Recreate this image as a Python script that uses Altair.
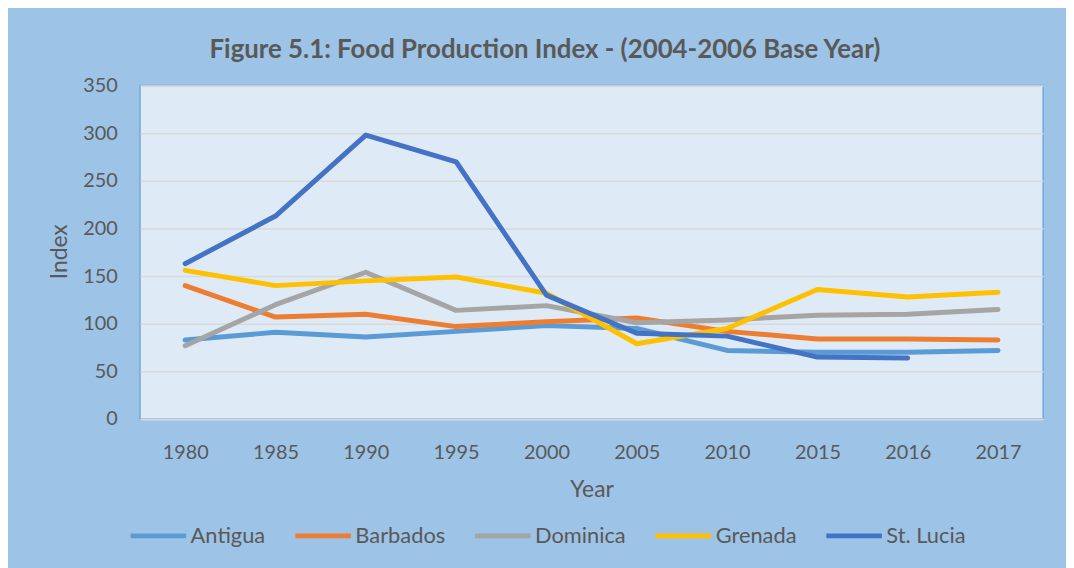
import altair as alt
import pandas as pd

years = ["1980", "1985", "1990", "1995", "2000", "2005", "2010", "2015", "2016", "2017"]
antigua = [83, 91, 86, 92, 98, 95, 72, 70, 70, 72]
barbados = [140, 107, 110, 97, 102, 106, 92, 84, 84, 83]
dominica = [77, 120, 154, 114, 119, 101, 104, 109, 110, 115]
grenada = [156, 140, 145, 149, 132, 79, 95, 136, 128, 133]
st_lucia = [163, 213, 298, 270, 130, 90, 87, 65, 64, None]

series = {
    "Antigua": antigua,
    "Barbados": barbados,
    "Dominica": dominica,
    "Grenada": grenada,
    "St. Lucia": st_lucia,
}
colors = ["#5B9BD5", "#ED7D31", "#A5A5A5", "#FFC000", "#4472C4"]

rows = []
for name, vals in series.items():
    for y, v in zip(years, vals):
        if v is not None:
            rows.append({"Year": y, "Index": v, "Country": name})
df = pd.DataFrame(rows)

FONT = "Lato"
TXT = "#595959"

chart = (
    alt.Chart(df)
    .mark_line(strokeWidth=5, strokeCap="round", strokeJoin="round")
    .encode(
        x=alt.X(
            "Year:O",
            sort=years,
            scale=alt.Scale(type="point", padding=0.5),
            axis=alt.Axis(
                title="Year",
                labelAngle=0,
                ticks=False,
                domain=True,
                domainColor="#D9D9D9",
                domainWidth=1.5,
                labelPadding=24,
                labelFontSize=20,
                labelColor=TXT,
                labelFont=FONT,
                titleFontSize=23,
                titleFont=FONT,
                titleColor=TXT,
                titleFontWeight="normal",
                titleBaseline="alphabetic",
                titleY=78,
            ),
        ),
        y=alt.Y(
            "Index:Q",
            scale=alt.Scale(domain=[0, 350], nice=False),
            axis=alt.Axis(
                title="Index",
                values=[0, 50, 100, 150, 200, 250, 300, 350],
                ticks=False,
                domain=False,
                grid=True,
                gridColor="#D9D9D9",
                gridWidth=1.5,
                labelPadding=23,
                labelFontSize=20,
                labelColor=TXT,
                labelFont=FONT,
                titleFontSize=23,
                titleFont=FONT,
                titleColor=TXT,
                titleFontWeight="normal",
                titleAngle=270,
                titleAlign="center",
                titleBaseline="middle",
                titleX=-81,
                titleY=167,
            ),
        ),
        color=alt.Color(
            "Country:N",
            scale=alt.Scale(domain=list(series.keys()), range=colors),
            legend=alt.Legend(
                title=None,
                orient="none",
                direction="horizontal",
                legendX=-12,
                legendY=423,
                symbolType="stroke",
                symbolSize=3136,
                symbolStrokeWidth=5,
                labelFontSize=22,
                labelFont=FONT,
                labelColor=TXT,
                labelOffset=2,
                columnPadding=19,
            ),
        ),
    )
    .properties(
        width=910,
        height=336,
        autosize=alt.AutoSizeParams(type="none"),
        padding={"left": 133, "top": 76, "right": 23, "bottom": 148},
        background="#9DC3E6",
        title=alt.TitleParams(
            "Figure 5.1: Food Production Index - (2004-2006 Base Year)",
            fontSize=26,
            font=FONT,
            fontWeight="bold",
            color=TXT,
            anchor="middle",
            dx=-47,
            offset=-8,
            baseline="alphabetic",
        ),
    )
    .configure_view(fill="#DEEBF7", stroke="#6FA8DC", strokeWidth=1.5)
)

chart.save("out.html", embed_options={"renderer": "svg", "actions": False})
